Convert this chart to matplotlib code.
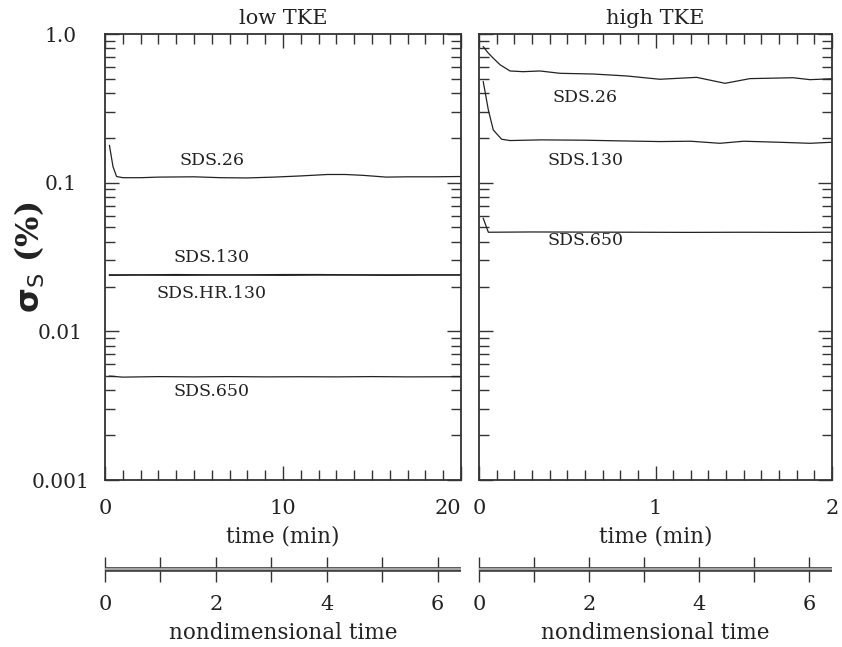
import matplotlib
matplotlib.use("Agg")
import matplotlib.pyplot as plt
from matplotlib.ticker import FixedLocator, FixedFormatter, MultipleLocator, LogLocator, NullFormatter

plt.rcParams["font.family"] = ["DejaVu Serif"]
plt.rcParams["mathtext.fontset"] = "dejavusans"

INK = "#222222"

# ---- low TKE run (time in minutes) ----
low_t26 = [0.25, 0.45, 0.65, 1.0, 2.0, 3.0, 5.0, 6.5, 8.0, 9.5, 11.0, 12.5, 13.5, 14.5, 15.8, 17.0, 18.5, 20.0]
low_s26 = [0.178, 0.128, 0.110, 0.108, 0.108, 0.109, 0.1095, 0.108, 0.1076, 0.109, 0.111, 0.1135, 0.1135, 0.112, 0.109, 0.1095, 0.1095, 0.110]

low_t130 = [0.25, 2.0, 4.0, 6.0, 8.0, 10.0, 12.0, 14.0, 16.0, 18.0, 20.0]
low_s130 = [0.0240, 0.0240, 0.0241, 0.0240, 0.0240, 0.0241, 0.0241, 0.0240, 0.0240, 0.0240, 0.0240]
low_s130hr = [0.0238, 0.0239, 0.0238, 0.0239, 0.0239, 0.0238, 0.0239, 0.0239, 0.0238, 0.0239, 0.0239]

low_t650 = [0.25, 1.0, 3.0, 5.0, 7.0, 9.0, 11.0, 13.0, 15.0, 17.0, 20.0]
low_s650 = [0.00500, 0.00492, 0.00496, 0.00494, 0.00496, 0.00494, 0.00495, 0.00494, 0.00496, 0.00494, 0.00495]

# ---- high TKE run (time in minutes) ----
high_t26 = [0.024, 0.05, 0.081, 0.12, 0.176, 0.25, 0.346, 0.459, 0.648, 0.837, 1.025, 1.233, 1.394, 1.535, 1.78, 1.875, 2.0]
high_s26 = [0.822, 0.75, 0.687, 0.62, 0.564, 0.558, 0.564, 0.544, 0.538, 0.522, 0.496, 0.511, 0.466, 0.501, 0.508, 0.493, 0.500]

high_t130 = [0.024, 0.053, 0.081, 0.128, 0.176, 0.35, 0.6, 0.8, 1.025, 1.2, 1.365, 1.5, 1.7, 1.875, 2.0]
high_s130 = [0.478, 0.308, 0.226, 0.196, 0.192, 0.194, 0.193, 0.191, 0.189, 0.190, 0.184, 0.190, 0.187, 0.184, 0.187]

high_t650 = [0.024, 0.053, 0.3, 0.6, 0.9, 1.2, 1.5, 1.8, 2.0]
high_s650 = [0.0576, 0.0464, 0.0466, 0.0465, 0.0464, 0.0463, 0.0464, 0.0463, 0.0464]

# curve labels: (text, time, sigma)
low_labels = [("SDS.26", 6.0, 0.142), ("SDS.130", 6.0, 0.0315),
              ("SDS.HR.130", 6.0, 0.0180), ("SDS.650", 6.0, 0.00394)]
high_labels = [("SDS.26", 0.603, 0.373), ("SDS.130", 0.605, 0.142),
               ("SDS.650", 0.605, 0.0407)]

panel_titles = ["low TKE", "high TKE"]
time_max = [20, 2]
time_major = [[0, 10, 20], [0, 1, 2]]
time_major_text = [["0", "10", "20"], ["0", "1", "2"]]
time_minor = [1, 0.1]
nondim_per_min = [0.321, 3.21]
nondim_ticks = [0, 1, 2, 3, 4, 5, 6]
nondim_labels = ["0", "", "2", "", "4", "", "6"]
ytick_vals = [0.001, 0.01, 0.1, 1.0]
ytick_text = ["0.001", "0.01", "0.1", "1.0"]

W, H = 842, 647
fig = plt.figure(figsize=(W / 100, H / 100), dpi=100)

def px_box(x0, x1, y0, y1):
    # pixel box (top-left origin) -> figure fraction
    return [x0 / W, 1 - y1 / H, (x1 - x0) / W, (y1 - y0) / H]

main_boxes = [px_box(105, 461, 34, 480), px_box(479, 832, 34, 480)]
bar_boxes = [px_box(105, 461, 559, 579), px_box(479, 832, 559, 579)]

series = [
    [(low_t26, low_s26), (low_t130, low_s130), (low_t130, low_s130hr), (low_t650, low_s650)],
    [(high_t26, high_s26), (high_t130, high_s130), (high_t650, high_s650)],
]
labels = [low_labels, high_labels]

for i in range(2):
    ax = fig.add_axes(main_boxes[i])
    for t, s in series[i]:
        ax.plot(t, s, color=INK, lw=0.9)
    for txt, tx, sy in labels[i]:
        ax.text(tx, sy, txt, ha="center", va="center", fontsize=12.5, color=INK)

    ax.set_yscale("log")
    ax.set_ylim(0.001, 1.0)
    ax.set_xlim(0, time_max[i])
    ax.yaxis.set_major_locator(FixedLocator(ytick_vals))
    ax.yaxis.set_minor_locator(LogLocator(base=10, subs=range(2, 10)))
    ax.yaxis.set_minor_formatter(NullFormatter())
    ax.xaxis.set_major_locator(FixedLocator(time_major[i]))
    ax.xaxis.set_major_formatter(FixedFormatter(time_major_text[i]))
    ax.xaxis.set_minor_locator(MultipleLocator(time_minor[i]))

    for sp in ax.spines.values():
        sp.set_linewidth(1.3)
        sp.set_color("#333333")
    ax.tick_params(which="both", direction="in", top=True, right=True,
                   color="#333333", width=1.0)
    ax.tick_params(which="major", length=10)
    ax.tick_params(which="minor", length=7)
    ax.tick_params(axis="x", which="major", labelsize=15, pad=14, labelcolor=INK)

    if i == 0:
        ax.yaxis.set_major_formatter(FixedFormatter(ytick_text))
        ax.tick_params(axis="y", which="major", labelsize=14.5, pad=32, labelcolor=INK)
        for tk in ax.yaxis.get_major_ticks():
            tk.label1.set_horizontalalignment("center")
        ax.set_ylabel(r"$\mathbf{\sigma}_{\mathsf{S}}$" + " (%)", fontsize=23,
                      fontweight="bold", color=INK)
        ax.yaxis.set_label_coords(-0.163, 0.5)
        # keep the right-end "20" clear of the neighbouring panel's "0"
        ax.xaxis.get_major_ticks()[-1].label1.set_horizontalalignment("right")
    else:
        ax.tick_params(axis="y", which="both", labelleft=False)

    ax.set_title(panel_titles[i], fontsize=15, pad=7, color=INK)
    ax.set_xlabel("time (min)", fontsize=15.5, color=INK)
    ax.xaxis.set_label_coords(0.5, -0.102)

    # nondimensional time bar
    bx = fig.add_axes(bar_boxes[i])
    bx.set_xlim(0, time_max[i] * nondim_per_min[i])
    bx.set_ylim(-1, 1)
    bx.axhline(0, color="#444444", lw=3.4, solid_capstyle="butt")
    bx.axhline(0, color="#b8b8b8", lw=1.2, solid_capstyle="butt")
    for name in ("top", "left", "right"):
        bx.spines[name].set_visible(False)
    bx.spines["bottom"].set_position(("data", 0))
    bx.spines["bottom"].set_color("none")
    bx.set_yticks([])
    bx.xaxis.set_major_locator(FixedLocator(nondim_ticks))
    bx.xaxis.set_major_formatter(FixedFormatter(nondim_labels))
    bx.tick_params(axis="x", direction="inout", length=18, width=1.0, color="#333333",
                   labelsize=15, pad=10, labelcolor=INK)
    bx.patch.set_alpha(0)
    bx.set_xlabel("nondimensional time", fontsize=15.5, color=INK)
    bx.xaxis.set_label_coords(0.5, -2.15)

fig.savefig("out.png", dpi=100)
